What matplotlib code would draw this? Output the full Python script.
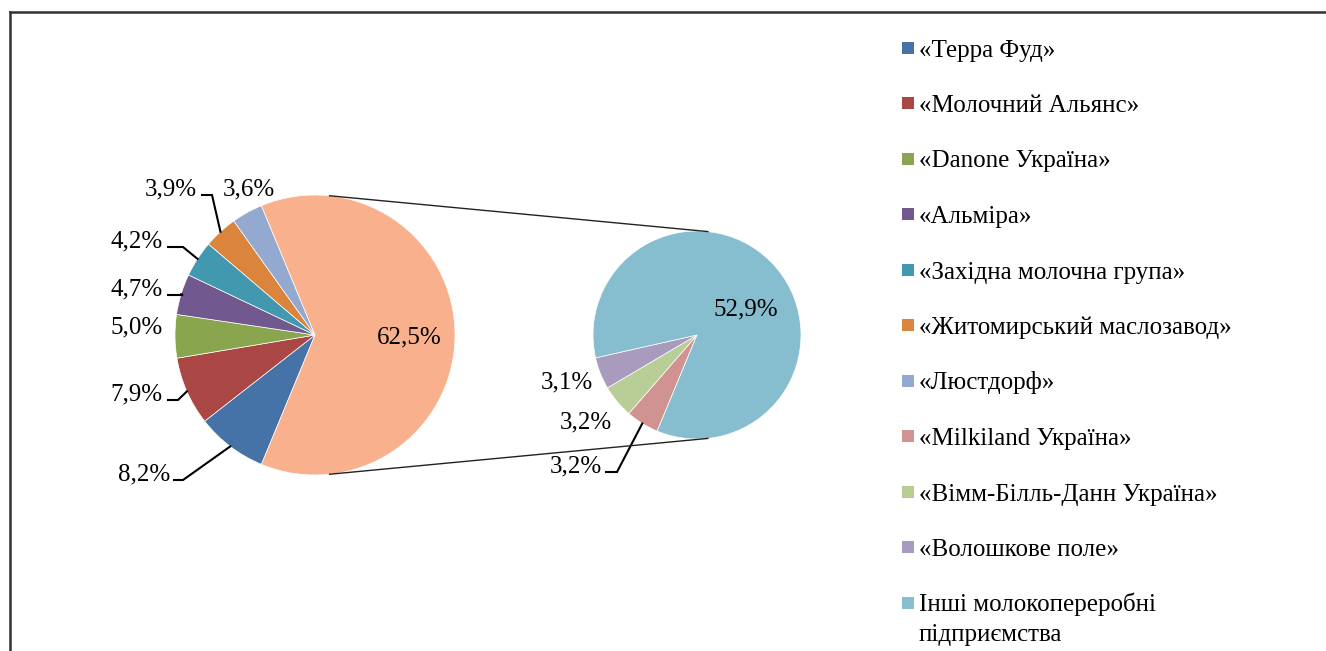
import matplotlib
matplotlib.use('Agg')
import matplotlib.pyplot as plt
import numpy as np
from matplotlib.patches import Rectangle
from matplotlib.lines import Line2D

# ---------------- data ----------------
main_labels = ['«Терра Фуд»', '«Молочний Альянс»', '«Danone Україна»', '«Альміра»',
               '«Західна молочна група»', '«Житомирський маслозавод»', '«Люстдорф»']
main_values = [8.2, 7.9, 5.0, 4.7, 4.2, 3.9, 3.6]
other_value = 62.5
sub_labels = ['«Milkiland Україна»', '«Вімм-Білль-Данн Україна»', '«Волошкове поле»',
              'Інші молокопереробні\nпідприємства']
sub_values = [3.2, 3.2, 3.1, 52.9]

main_colors = ['#4572A7', '#AA4643', '#89A54E', '#71588F', '#4198AF', '#DB843D', '#93A9CF']
other_color = '#F9B08C'
sub_colors = ['#D19392', '#B9CD96', '#A99BBD', '#86BED0']

# ---------------- layout (pixel coords, y measured from top) ----------------
W, H = 1326, 651
FONT = 'Liberation Serif'
LBL_SIZE = 18
LEG_SIZE = 18

main_c, main_r = (315, 335), 140
sub_c, sub_r = (697, 335), 104
start = 247.5

# label anchors: (x, baseline_y, ha); leader: (x_start, x_elbow) or None
main_lbl_pos = [(170, 480, 'right'), (163, 400, 'right'), (163, 333, 'right'),
                (163, 295, 'right'), (163, 247, 'right'), (197, 195, 'right'),
                (249, 195, 'center'), (409, 343, 'center')]
main_leaders = [(174, 183), (168, 178), None, (168, 183), (168, 183), (202, 212), None, None]
sub_lbl_pos = [(602, 472, 'right'), (612, 428, 'right'), (593, 388, 'right'), (746, 315, 'center')]
sub_leaders = [(606, 617), None, None, None]

def py(y):
    return H - y

fig = plt.figure(figsize=(W / 100, H / 100), dpi=100)
ax = fig.add_axes([0, 0, 1, 1])

wp = dict(edgecolor='white', linewidth=0.5)
mvals = main_values + [other_value]
mw, _ = ax.pie(mvals, colors=main_colors + [other_color], center=(main_c[0], py(main_c[1])),
               radius=main_r, startangle=start, counterclock=False, wedgeprops=wp, frame=True)
sw, _ = ax.pie(sub_values, colors=sub_colors, center=(sub_c[0], py(sub_c[1])),
               radius=sub_r, startangle=start, counterclock=False, wedgeprops=wp, frame=True)

ax.set_xlim(0, W)
ax.set_ylim(0, H)
ax.set_aspect('equal')
ax.axis('off')

def fmt(v):
    return f'{v:.1f}%'.replace('.', ',')

def draw_labels(wedges, vals, positions, leaders):
    for w, v, pos, ld in zip(wedges, vals, positions, leaders):
        x, yb, ha = pos
        ax.text(x, py(yb), fmt(v), ha=ha, va='baseline', fontsize=LBL_SIZE,
                family=FONT, color='black')
        if ld is not None:
            mid = np.deg2rad((w.theta1 + w.theta2) / 2)
            ex = w.center[0] + w.r * np.cos(mid)
            ey = w.center[1] + w.r * np.sin(mid)
            ax.plot([ld[0], ld[1], ex], [py(yb), py(yb), ey], color='black', lw=1.5,
                    solid_joinstyle='miter')

draw_labels(mw, mvals, main_lbl_pos, main_leaders)
draw_labels(sw, sub_values, sub_lbl_pos, sub_leaders)

# connector lines between the two pies
for a in (84, -84):
    t = np.deg2rad(a)
    x1 = main_c[0] + main_r * np.cos(t)
    y1 = py(main_c[1]) + main_r * np.sin(t)
    x2 = sub_c[0] + sub_r * np.cos(t)
    y2 = py(sub_c[1]) + sub_r * np.sin(t)
    ax.plot([x1, x2], [y1, y2], color='#222222', lw=1.0)

# legend
leg_x_sq, leg_sq = 902, 12
leg_x_txt = 919
leg_y0, leg_dy = 47.5, 55.5
all_labels = main_labels + sub_labels
all_colors = main_colors + sub_colors
for i, (lab, col) in enumerate(zip(all_labels, all_colors)):
    yc = leg_y0 + i * leg_dy
    ax.add_patch(Rectangle((leg_x_sq, py(yc + leg_sq / 2)), leg_sq, leg_sq,
                           facecolor=col, edgecolor='none'))
    for j, line in enumerate(lab.split('\n')):
        ax.text(leg_x_txt, py(yc + 9 + j * 30), line, ha='left', va='baseline',
                fontsize=LEG_SIZE, family=FONT, color='black')

# chart border (left and top visible)
fig.add_artist(Line2D([9.5 / W, 9.5 / W], [0, 1 - 12 / H], transform=fig.transFigure,
                      color='#333333', lw=1.8))
fig.add_artist(Line2D([9.5 / W, 1], [1 - 12 / H, 1 - 12 / H], transform=fig.transFigure,
                      color='#333333', lw=1.8))

fig.savefig('out.png', dpi=100, facecolor='white')
